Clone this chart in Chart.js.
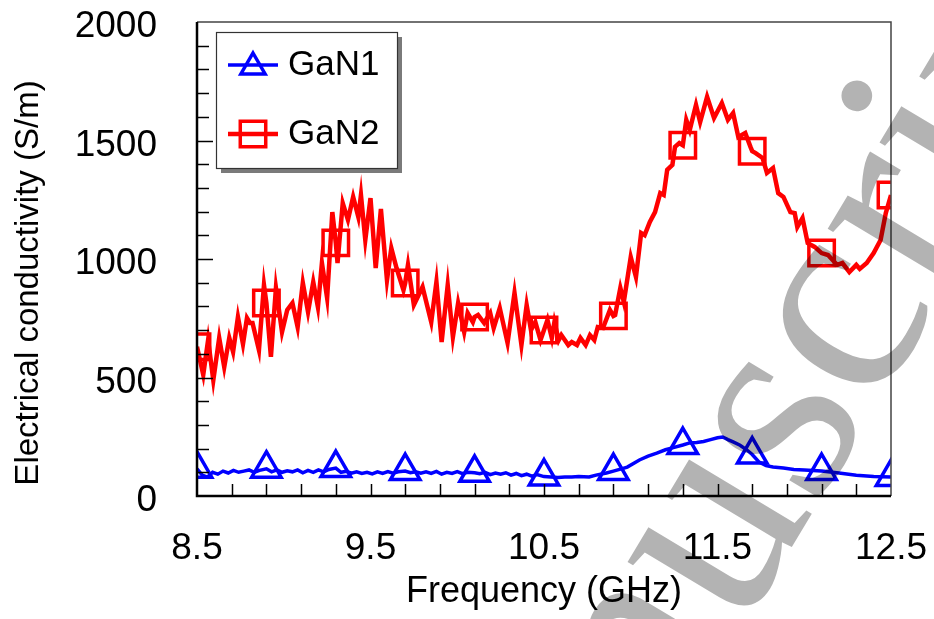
<!DOCTYPE html>
<html lang="en">
<head>
    <meta charset="UTF-8">
    <title>Electrical conductivity vs frequency</title>
    <script src="https://cdn.jsdelivr.net/npm/chart.js@4"></script>
    <style>
        html, body { margin: 0; padding: 0; background: #fff; }
        #wrap { width: 934px; height: 619px; position: relative; }
    </style>
</head>
<body>
<div id="wrap"><canvas id="myChart"></canvas></div>
<script>
    const freqGaN1 = [8.50, 8.53, 8.56, 8.59, 8.62, 8.65, 8.68, 8.71, 8.74, 8.77,
        8.80, 8.83, 8.86, 8.90, 8.93, 8.96, 8.99, 9.02, 9.05, 9.08,
        9.11, 9.14, 9.17, 9.20, 9.23, 9.26, 9.30, 9.33, 9.36, 9.39,
        9.42, 9.45, 9.48, 9.51, 9.54, 9.57, 9.60, 9.63, 9.66, 9.70,
        9.73, 9.76, 9.79, 9.82, 9.85, 9.88, 9.91, 9.94, 9.97, 10.00,
        10.03, 10.06, 10.10, 10.13, 10.16, 10.19, 10.22, 10.25, 10.28, 10.31,
        10.34, 10.37, 10.40, 10.43, 10.46, 10.50, 10.54, 10.58, 10.62, 10.66,
        10.70, 10.76, 10.80, 10.86, 10.90, 10.98, 11.05, 11.10, 11.15, 11.20,
        11.24, 11.30, 11.34, 11.38, 11.42, 11.46, 11.50, 11.53, 11.56, 11.59,
        11.63, 11.67, 11.70, 11.74, 11.78, 11.82, 11.88, 11.94, 12.00, 12.10,
        12.20, 12.30, 12.40, 12.50];
    const gan1 = [115, 88, 80, 100, 92, 105, 97, 108, 100, 105,
        110, 100, 108, 115, 102, 110, 100, 106, 102, 110,
        98, 108, 100, 110, 102, 112, 118, 100, 104, 96,
        102, 95, 100, 93, 102, 95, 103, 96, 102, 105,
        98, 102, 96, 102, 95, 104, 92, 100, 95, 103,
        94, 100, 98, 94, 100, 90, 97, 92, 98, 88,
        95, 86, 92, 84, 90, 82, 80, 78, 80, 80,
        82, 80, 88, 97, 105, 122, 152, 168, 181, 195,
        203, 215, 224, 226, 230, 238, 246, 249, 238, 228,
        214, 194, 175, 143, 128, 122, 118, 112, 110, 105,
        97, 88, 82, 80];

    const freqGaN2 = [8.500, 8.536, 8.564, 8.594, 8.628, 8.657, 8.686, 8.708, 8.736, 8.765,
        8.788, 8.805, 8.820, 8.857, 8.886, 8.900, 8.926, 8.955, 8.990, 9.020,
        9.050, 9.080, 9.110, 9.140, 9.170, 9.197, 9.220, 9.250, 9.280, 9.300,
        9.310, 9.340, 9.370, 9.400, 9.430, 9.445, 9.470, 9.500, 9.530, 9.560,
        9.595, 9.620, 9.650, 9.690, 9.700, 9.716, 9.750, 9.800, 9.850, 9.880,
        9.910, 9.945, 9.975, 10.005, 10.040, 10.060, 10.090, 10.100, 10.120, 10.155,
        10.190, 10.210, 10.245, 10.290, 10.330, 10.370, 10.400, 10.425, 10.450, 10.480,
        10.500, 10.520, 10.545, 10.560, 10.585, 10.600, 10.640, 10.660, 10.690, 10.710,
        10.740, 10.765, 10.790, 10.810, 10.840, 10.880, 10.900, 10.910, 10.940, 10.960,
        11.000, 11.030, 11.060, 11.080, 11.110, 11.140, 11.170, 11.190, 11.210, 11.240,
        11.255, 11.280, 11.300, 11.320, 11.340, 11.376, 11.400, 11.440, 11.480, 11.525,
        11.560, 11.590, 11.620, 11.660, 11.690, 11.700, 11.720, 11.760, 11.785, 11.820,
        11.850, 11.880, 11.920, 11.945, 11.960, 11.990, 12.020, 12.060, 12.100, 12.137,
        12.190, 12.220, 12.260, 12.300, 12.320, 12.360, 12.400, 12.440, 12.470, 12.500];
    const gan2 = [630, 511, 658, 489, 667, 544, 667, 608, 755, 641,
        751, 730, 730, 616, 890, 814, 587, 878, 692, 785,
        814, 713, 899, 776, 903, 797, 983, 835, 1198, 1068,
        983, 1236, 1165, 1262, 1177, 1270, 1080, 1257, 962, 1211,
        911, 1046, 962, 869, 899, 975, 806, 882, 734, 903,
        650, 890, 671, 814, 692, 772, 734, 755, 764, 730,
        772, 709, 793, 646, 857, 637, 806, 700, 734, 658,
        700, 743, 667, 734, 658, 679, 637, 650, 637, 667,
        637, 679, 658, 713, 709, 785, 760, 764, 878, 819,
        1008, 924, 1110, 1101, 1156, 1198, 1278, 1270, 1376, 1397,
        1473, 1489, 1480, 1587, 1544, 1650, 1578, 1684, 1595, 1658,
        1587, 1616, 1515, 1532, 1473, 1455, 1447, 1426, 1363, 1384,
        1278, 1262, 1198, 1194, 1135, 1173, 1067, 1051, 1025, 1017,
        975, 983, 945, 975, 958, 983, 1025, 1080, 1194, 1270];

    const markerFreqs = [8.5, 8.9, 9.3, 9.7, 10.1, 10.5, 10.9, 11.3, 11.7, 12.1, 12.5];
    const xTicks = [8.5, 9.5, 10.5, 11.5, 12.5];
    const yTicks = [0, 500, 1000, 1500, 2000];
    const seriesNames = ['GaN1', 'GaN2'];

    const FONT = 'Liberation Sans, Arial, sans-serif';

    function isMarker(x) {
        return markerFreqs.some(m => Math.abs(m - x) < 1e-6);
    }

    function drawMarker(ctx, style, r, x, y) {
        ctx.beginPath();
        if (style === 'triangle') {
            ctx.moveTo(x, y - r);
            ctx.lineTo(x + r * 0.866, y + r / 2);
            ctx.lineTo(x - r * 0.866, y + r / 2);
            ctx.closePath();
        } else {
            const s = r * Math.SQRT1_2;
            ctx.rect(x - s, y - s, 2 * s, 2 * s);
        }
        ctx.stroke();
    }

    function noOverflow(scale) {
        scale.paddingTop = 0;
        scale.paddingBottom = 0;
        scale.paddingLeft = 0;
        scale.paddingRight = 0;
    }

    const framePlugin = {
        id: 'frame',
        afterDatasetsDraw(chart) {
            const {ctx, chartArea: a, scales: {x, y}} = chart;
            ctx.save();
            // inward ticks
            ctx.strokeStyle = '#000';
            ctx.lineWidth = 1.5;
            for (let v = 100; v < 2000; v += 100) {
                const py = Math.round(y.getPixelForValue(v)) + 0.5;
                const len = v % 500 === 0 ? 16 : 12;
                ctx.beginPath();
                ctx.moveTo(a.left, py);
                ctx.lineTo(a.left + len, py);
                ctx.stroke();
            }
            for (let i = 1; i < 20; i++) {
                const px = Math.round(x.getPixelForValue(8.5 + i * 0.2)) + 0.5;
                ctx.beginPath();
                ctx.moveTo(px, a.bottom);
                ctx.lineTo(px, a.bottom - 12);
                ctx.stroke();
            }
            // box
            ctx.strokeStyle = '#444';
            ctx.lineWidth = 1.5;
            ctx.beginPath();
            ctx.moveTo(a.left, a.top);
            ctx.lineTo(a.right, a.top);
            ctx.lineTo(a.right, a.bottom);
            ctx.stroke();
            ctx.strokeStyle = '#000';
            ctx.lineWidth = 2.5;
            ctx.beginPath();
            ctx.moveTo(a.left, a.top);
            ctx.lineTo(a.left, a.bottom);
            ctx.lineTo(a.right, a.bottom);
            ctx.stroke();

            // legend
            const bx = 216, by = 32, bw = 181, bh = 136;
            ctx.fillStyle = '#7a7a7a';
            ctx.fillRect(bx + 5, by + 5, bw, bh);
            ctx.fillStyle = '#fff';
            ctx.fillRect(bx, by, bw, bh);
            ctx.strokeStyle = '#333';
            ctx.lineWidth = 1.2;
            ctx.strokeRect(bx + 0.5, by + 0.5, bw, bh);
            const rows = [65, 134];
            chart.data.datasets.forEach((ds, i) => {
                const ly = rows[i];
                ctx.strokeStyle = ds.borderColor;
                ctx.lineWidth = ds.borderWidth;
                ctx.beginPath();
                ctx.moveTo(228, ly);
                ctx.lineTo(278, ly);
                ctx.stroke();
                ctx.lineWidth = ds.pointBorderWidth;
                drawMarker(ctx, ds.pointStyle, ds.pointStyle === 'triangle' ? 14 : 18, 253, ly + (ds.pointStyle === 'triangle' ? 2 : 0));
                ctx.fillStyle = '#000';
                ctx.font = '35px ' + FONT;
                ctx.textBaseline = 'middle';
                ctx.textAlign = 'left';
                ctx.fillText(ds.label, 288, ly);
            });

            // y axis title
            ctx.translate(29, 283);
            ctx.rotate(-Math.PI / 2);
            ctx.font = '33px ' + FONT;
            ctx.textAlign = 'center';
            ctx.textBaseline = 'middle';
            ctx.fillStyle = '#000';
            ctx.fillText('Electrical conductivity (S/m)', 0, 0);
            ctx.restore();
        },
        afterDraw(chart) {
            const ctx = chart.ctx;
            ctx.save();
            ctx.globalCompositeOperation = 'multiply';
            ctx.translate(665, 758);
            ctx.rotate(-59 * Math.PI / 180);
            ctx.font = '290px Liberation Serif, Times New Roman, serif';
            ctx.fillStyle = '#b3b3b3';
            ctx.textBaseline = 'alphabetic';
            ctx.fillText('nuscript', 0, 0);
            ctx.restore();
        }
    };

    const pointSize = ctx => (ctx.raw && isMarker(ctx.raw.x)) ? (ctx.dataset.pointStyle === 'triangle' ? 17 : 18) : 0;

    const ctx = document.getElementById('myChart').getContext('2d');
    new Chart(ctx, {
        type: 'line',
        data: {
            datasets: [{
                label: seriesNames[0],
                data: freqGaN1.map((f, i) => ({x: f, y: gan1[i]})),
                borderColor: '#0000ff',
                borderWidth: 3.5,
                pointStyle: 'triangle',
                pointRadius: pointSize,
                pointBorderColor: '#0000ff',
                pointBackgroundColor: 'rgba(0,0,0,0)',
                pointBorderWidth: 3.5,
                tension: 0,
                clip: 0
            }, {
                label: seriesNames[1],
                data: freqGaN2.map((f, i) => ({x: f, y: gan2[i]})),
                borderColor: '#ff0000',
                borderWidth: 4.5,
                pointStyle: 'rect',
                pointRadius: pointSize,
                pointBorderColor: '#ff0000',
                pointBackgroundColor: 'rgba(0,0,0,0)',
                pointBorderWidth: 3.5,
                tension: 0,
                clip: 0
            }]
        },
        options: {
            responsive: true,
            maintainAspectRatio: false,
            animation: false,
            events: [],
            layout: { padding: { top: 22, right: 43, left: 0, bottom: 0 } },
            plugins: {
                legend: { display: false },
                tooltip: { enabled: false }
            },
            scales: {
                x: {
                    type: 'linear',
                    min: 8.5,
                    max: 12.5,
                    afterBuildTicks: scale => { scale.ticks = xTicks.map(v => ({value: v})); },
                    afterFit: scale => { scale.height = 123; noOverflow(scale); },
                    grid: { display: false },
                    border: { display: false },
                    ticks: {
                        color: '#000',
                        font: { family: FONT, size: 37 },
                        padding: 23,
                        maxRotation: 0,
                        autoSkip: false,
                        callback: v => String(v)
                    },
                    title: {
                        display: true,
                        text: 'Frequency (GHz)',
                        color: '#000',
                        font: { family: FONT, size: 36 },
                        padding: { top: 0, bottom: 5 }
                    }
                },
                y: {
                    min: 0,
                    max: 2000,
                    afterBuildTicks: scale => { scale.ticks = yTicks.map(v => ({value: v})); },
                    afterFit: scale => { scale.width = 197; noOverflow(scale); },
                    grid: { display: false },
                    border: { display: false },
                    ticks: {
                        color: '#000',
                        font: { family: FONT, size: 37 },
                        padding: 32,
                        labelOffset: 5,
                        autoSkip: false,
                        callback: v => String(v)
                    }
                }
            }
        },
        plugins: [framePlugin]
    });
</script>
</body>
</html>
